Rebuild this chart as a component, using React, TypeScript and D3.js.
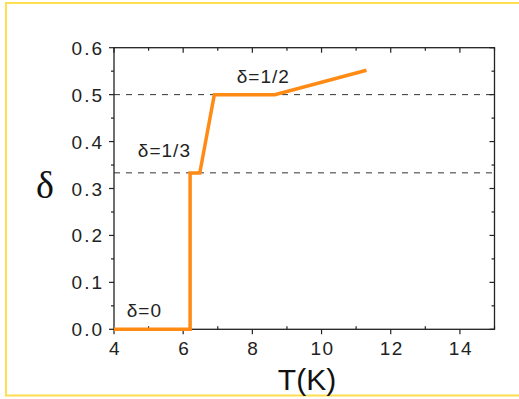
import React, { useEffect, useRef } from "react";
import * as d3 from "d3";

// orange curve
const tValues = [4, 6.2, 6.2, 6.48, 6.9, 8.65, 11.3];
const deltaValues = [0, 0, 0.333, 0.333, 0.5, 0.5, 0.552];

// dashed reference levels
const levels = [0.5, 1 / 3];

const labels = ["δ=0", "δ=1/3", "δ=1/2"];
const labelT = [4.37, 4.69, 7.55];
const labelDelta = [0.026, 0.367, 0.525];

const xTicks = [4, 6, 8, 10, 12, 14];
const yTicks = [0, 0.1, 0.2, 0.3, 0.4, 0.5, 0.6];

const App: React.FC = () => {
  const svgRef = useRef<SVGSVGElement | null>(null);

  useEffect(() => {
    if (!svgRef.current) return;
    const svg = d3.select(svgRef.current);
    svg.selectAll("*").remove();

    const x = d3.scaleLinear().domain([4, 15]).range([114, 494.5]);
    const y = d3.scaleLinear().domain([0, 0.6]).range([329.3, 47.7]);
    const font = "'Liberation Sans', Arial, sans-serif";

    // yellow frame
    svg
      .append("path")
      .attr("d", "M520,3 H6 V395.5 H520")
      .attr("fill", "none")
      .attr("stroke", "#ffdf4f")
      .attr("stroke-width", 2);

    // dashed levels
    svg
      .selectAll(".lvl")
      .data(levels)
      .enter()
      .append("line")
      .attr("x1", x(4))
      .attr("x2", x(15))
      .attr("y1", (d) => y(d))
      .attr("y2", (d) => y(d))
      .attr("stroke", "#333")
      .attr("stroke-width", 1)
      .attr("stroke-dasharray", "6,6");

    // frame of plot
    svg
      .append("rect")
      .attr("x", x(4))
      .attr("y", y(0.6))
      .attr("width", x(15) - x(4))
      .attr("height", y(0) - y(0.6))
      .attr("fill", "none")
      .attr("stroke", "#222")
      .attr("stroke-width", 1.3);

    const g = svg.append("g").attr("stroke", "#222").attr("stroke-width", 1.2);
    const xMinor = d3.range(4, 15.01, 1);
    const yMinor = d3.range(0, 0.601, 0.05);

    // bottom / top ticks
    xMinor.forEach((t) => {
      const major = Math.round(t) % 2 === 0;
      g.append("line")
        .attr("x1", x(t)).attr("x2", x(t))
        .attr("y1", y(0) + (major ? 5 : 0)).attr("y2", y(0) - (major ? 0 : 3));
      g.append("line")
        .attr("x1", x(t)).attr("x2", x(t))
        .attr("y1", y(0.6)).attr("y2", y(0.6) + (major ? 5 : 3));
    });
    // left / right ticks
    yMinor.forEach((v, i) => {
      const major = i % 2 === 0;
      g.append("line")
        .attr("x1", x(4) - (major ? 5 : 3)).attr("x2", x(4))
        .attr("y1", y(v)).attr("y2", y(v));
      g.append("line")
        .attr("x1", x(15) - (major ? 5 : 3)).attr("x2", x(15))
        .attr("y1", y(v)).attr("y2", y(v));
    });

    // tick labels
    svg
      .selectAll(".xt")
      .data(xTicks)
      .enter()
      .append("text")
      .attr("x", (d) => x(d) + 1)
      .attr("y", 355)
      .attr("text-anchor", "middle")
      .attr("font-family", font)
      .attr("font-size", 19)
      .attr("letter-spacing", 1.5)
      .attr("fill", "#222")
      .text((d) => d);

    svg
      .selectAll(".yt")
      .data(yTicks)
      .enter()
      .append("text")
      .attr("x", 104)
      .attr("y", (d) => y(d) + 7)
      .attr("text-anchor", "end")
      .attr("font-family", font)
      .attr("font-size", 19)
      .attr("letter-spacing", 2)
      .attr("fill", "#222")
      .text((d) => d.toFixed(1));

    // curve
    const line = d3
      .line<number>()
      .x((d) => x(d))
      .y((_, i) => y(deltaValues[i]));
    svg
      .append("path")
      .attr("d", line(tValues))
      .attr("fill", "none")
      .attr("stroke", "#ff8a14")
      .attr("stroke-width", 3.5)
      .attr("stroke-linejoin", "miter");

    // annotations
    svg
      .selectAll(".lab")
      .data(labels)
      .enter()
      .append("text")
      .attr("x", (_, i) => x(labelT[i]))
      .attr("y", (_, i) => y(labelDelta[i]))
      .attr("font-family", font)
      .attr("font-size", 19)
      .attr("letter-spacing", 1)
      .attr("fill", "#222")
      .text((d) => d);

    // axis titles
    svg
      .append("text")
      .attr("x", 307)
      .attr("y", 390)
      .attr("text-anchor", "middle")
      .attr("font-family", font)
      .attr("font-size", 30)
      .attr("fill", "#111")
      .text("T(K)");

    svg
      .append("text")
      .attr("x", 45)
      .attr("y", 198)
      .attr("text-anchor", "middle")
      .attr("font-family", "'Liberation Serif', 'Times New Roman', serif")
      .attr("font-size", 38)
      .attr("fill", "#111")
      .text("δ");
  }, []);

  return (
    <svg
      ref={svgRef}
      width={519}
      height={399}
      style={{ position: "absolute", left: 0, top: 0, background: "#fff" }}
    />
  );
};

export default App;
